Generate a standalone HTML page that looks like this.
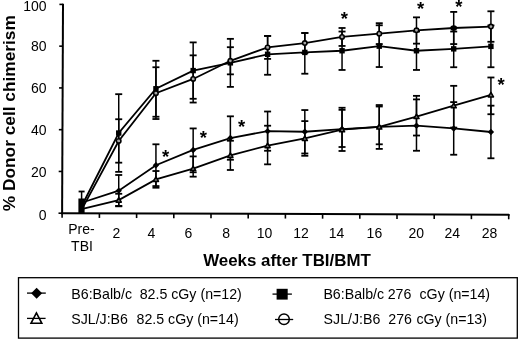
<!DOCTYPE html>
<html><head><meta charset="utf-8"><style>
html,body{margin:0;padding:0;background:#fff;width:520px;height:341px;overflow:hidden}
svg{display:block;filter:grayscale(100%)}
text{font-family:"Liberation Sans",sans-serif;fill:#000}
.tl{font-size:14px}
.lt{font-size:14.2px}
.ttl{font-size:16.9px;font-weight:bold}
.ttly{font-size:17.3px;font-weight:bold}
.star{font-size:18.5px;font-weight:bold;text-anchor:middle}
.ax{stroke:#000;stroke-width:2}
.tk{stroke:#000;stroke-width:1.6}
.eb{stroke:#000;stroke-width:1.5}
.cap{stroke:#000;stroke-width:1.8}
.ln{stroke:#000;stroke-width:1.8;fill:none}
.lg{stroke:#000;stroke-width:1.3}
</style></head><body>
<svg width="520" height="341" viewBox="0 0 520 341">
<line x1="118.72" y1="94.18" x2="118.72" y2="171.86" class="eb"/>
<line x1="115.22" y1="94.18" x2="122.22" y2="94.18" class="cap"/>
<line x1="115.22" y1="171.86" x2="122.22" y2="171.86" class="cap"/>
<line x1="155.94" y1="60.78" x2="155.94" y2="116.73" class="eb"/>
<line x1="152.44" y1="60.78" x2="159.44" y2="60.78" class="cap"/>
<line x1="152.44" y1="116.73" x2="159.44" y2="116.73" class="cap"/>
<line x1="193.16" y1="42.40" x2="193.16" y2="98.78" class="eb"/>
<line x1="189.66" y1="42.40" x2="196.66" y2="42.40" class="cap"/>
<line x1="189.66" y1="98.78" x2="196.66" y2="98.78" class="cap"/>
<line x1="230.38" y1="38.85" x2="230.38" y2="86.88" class="eb"/>
<line x1="226.88" y1="38.85" x2="233.88" y2="38.85" class="cap"/>
<line x1="226.88" y1="86.88" x2="233.88" y2="86.88" class="cap"/>
<line x1="267.60" y1="35.93" x2="267.60" y2="74.77" class="eb"/>
<line x1="264.10" y1="35.93" x2="271.10" y2="35.93" class="cap"/>
<line x1="264.10" y1="74.77" x2="271.10" y2="74.77" class="cap"/>
<line x1="304.82" y1="33.01" x2="304.82" y2="73.72" class="eb"/>
<line x1="301.32" y1="33.01" x2="308.32" y2="33.01" class="cap"/>
<line x1="301.32" y1="73.72" x2="308.32" y2="73.72" class="cap"/>
<line x1="342.04" y1="31.54" x2="342.04" y2="69.96" class="eb"/>
<line x1="338.54" y1="31.54" x2="345.54" y2="31.54" class="cap"/>
<line x1="338.54" y1="69.96" x2="345.54" y2="69.96" class="cap"/>
<line x1="379.26" y1="25.28" x2="379.26" y2="67.04" class="eb"/>
<line x1="375.76" y1="25.28" x2="382.76" y2="25.28" class="cap"/>
<line x1="375.76" y1="67.04" x2="382.76" y2="67.04" class="cap"/>
<line x1="416.48" y1="31.54" x2="416.48" y2="69.96" class="eb"/>
<line x1="412.98" y1="31.54" x2="419.98" y2="31.54" class="cap"/>
<line x1="412.98" y1="69.96" x2="419.98" y2="69.96" class="cap"/>
<line x1="453.70" y1="31.54" x2="453.70" y2="67.25" class="eb"/>
<line x1="450.20" y1="31.54" x2="457.20" y2="31.54" class="cap"/>
<line x1="450.20" y1="67.25" x2="457.20" y2="67.25" class="cap"/>
<line x1="490.92" y1="25.49" x2="490.92" y2="67.25" class="eb"/>
<line x1="487.42" y1="25.49" x2="494.42" y2="25.49" class="cap"/>
<line x1="487.42" y1="67.25" x2="494.42" y2="67.25" class="cap"/>
<line x1="118.72" y1="119.24" x2="118.72" y2="162.67" class="eb"/>
<line x1="115.22" y1="119.24" x2="122.22" y2="119.24" class="cap"/>
<line x1="115.22" y1="162.67" x2="122.22" y2="162.67" class="cap"/>
<line x1="155.94" y1="67.25" x2="155.94" y2="119.03" class="eb"/>
<line x1="152.44" y1="67.25" x2="159.44" y2="67.25" class="cap"/>
<line x1="152.44" y1="119.03" x2="159.44" y2="119.03" class="cap"/>
<line x1="193.16" y1="55.35" x2="193.16" y2="102.54" class="eb"/>
<line x1="189.66" y1="55.35" x2="196.66" y2="55.35" class="cap"/>
<line x1="189.66" y1="102.54" x2="196.66" y2="102.54" class="cap"/>
<line x1="230.38" y1="47.20" x2="230.38" y2="74.35" class="eb"/>
<line x1="226.88" y1="47.20" x2="233.88" y2="47.20" class="cap"/>
<line x1="226.88" y1="74.35" x2="233.88" y2="74.35" class="cap"/>
<line x1="267.60" y1="35.93" x2="267.60" y2="58.90" class="eb"/>
<line x1="264.10" y1="35.93" x2="271.10" y2="35.93" class="cap"/>
<line x1="264.10" y1="58.90" x2="271.10" y2="58.90" class="cap"/>
<line x1="304.82" y1="33.01" x2="304.82" y2="53.05" class="eb"/>
<line x1="301.32" y1="33.01" x2="308.32" y2="33.01" class="cap"/>
<line x1="301.32" y1="53.05" x2="308.32" y2="53.05" class="cap"/>
<line x1="342.04" y1="27.99" x2="342.04" y2="45.95" class="eb"/>
<line x1="338.54" y1="27.99" x2="345.54" y2="27.99" class="cap"/>
<line x1="338.54" y1="45.95" x2="345.54" y2="45.95" class="cap"/>
<line x1="379.26" y1="23.19" x2="379.26" y2="44.07" class="eb"/>
<line x1="375.76" y1="23.19" x2="382.76" y2="23.19" class="cap"/>
<line x1="375.76" y1="44.07" x2="382.76" y2="44.07" class="cap"/>
<line x1="416.48" y1="17.35" x2="416.48" y2="43.65" class="eb"/>
<line x1="412.98" y1="17.35" x2="419.98" y2="17.35" class="cap"/>
<line x1="412.98" y1="43.65" x2="419.98" y2="43.65" class="cap"/>
<line x1="453.70" y1="11.92" x2="453.70" y2="44.07" class="eb"/>
<line x1="450.20" y1="11.92" x2="457.20" y2="11.92" class="cap"/>
<line x1="450.20" y1="44.07" x2="457.20" y2="44.07" class="cap"/>
<line x1="490.92" y1="11.29" x2="490.92" y2="41.78" class="eb"/>
<line x1="487.42" y1="11.29" x2="494.42" y2="11.29" class="cap"/>
<line x1="487.42" y1="41.78" x2="494.42" y2="41.78" class="cap"/>
<line x1="118.72" y1="174.99" x2="118.72" y2="206.31" class="eb"/>
<line x1="115.22" y1="174.99" x2="122.22" y2="174.99" class="cap"/>
<line x1="115.22" y1="206.31" x2="122.22" y2="206.31" class="cap"/>
<line x1="155.94" y1="144.30" x2="155.94" y2="186.06" class="eb"/>
<line x1="152.44" y1="144.30" x2="159.44" y2="144.30" class="cap"/>
<line x1="152.44" y1="186.06" x2="159.44" y2="186.06" class="cap"/>
<line x1="193.16" y1="128.43" x2="193.16" y2="172.28" class="eb"/>
<line x1="189.66" y1="128.43" x2="196.66" y2="128.43" class="cap"/>
<line x1="189.66" y1="172.28" x2="196.66" y2="172.28" class="cap"/>
<line x1="230.38" y1="116.32" x2="230.38" y2="159.75" class="eb"/>
<line x1="226.88" y1="116.32" x2="233.88" y2="116.32" class="cap"/>
<line x1="226.88" y1="159.75" x2="233.88" y2="159.75" class="cap"/>
<line x1="267.60" y1="111.51" x2="267.60" y2="150.77" class="eb"/>
<line x1="264.10" y1="111.51" x2="271.10" y2="111.51" class="cap"/>
<line x1="264.10" y1="150.77" x2="271.10" y2="150.77" class="cap"/>
<line x1="304.82" y1="110.05" x2="304.82" y2="153.48" class="eb"/>
<line x1="301.32" y1="110.05" x2="308.32" y2="110.05" class="cap"/>
<line x1="301.32" y1="153.48" x2="308.32" y2="153.48" class="cap"/>
<line x1="342.04" y1="107.76" x2="342.04" y2="150.98" class="eb"/>
<line x1="338.54" y1="107.76" x2="345.54" y2="107.76" class="cap"/>
<line x1="338.54" y1="150.98" x2="345.54" y2="150.98" class="cap"/>
<line x1="379.26" y1="105.04" x2="379.26" y2="148.89" class="eb"/>
<line x1="375.76" y1="105.04" x2="382.76" y2="105.04" class="cap"/>
<line x1="375.76" y1="148.89" x2="382.76" y2="148.89" class="cap"/>
<line x1="416.48" y1="99.40" x2="416.48" y2="150.77" class="eb"/>
<line x1="412.98" y1="99.40" x2="419.98" y2="99.40" class="cap"/>
<line x1="412.98" y1="150.77" x2="419.98" y2="150.77" class="cap"/>
<line x1="453.70" y1="102.12" x2="453.70" y2="154.74" class="eb"/>
<line x1="450.20" y1="102.12" x2="457.20" y2="102.12" class="cap"/>
<line x1="450.20" y1="154.74" x2="457.20" y2="154.74" class="cap"/>
<line x1="490.92" y1="105.67" x2="490.92" y2="158.29" class="eb"/>
<line x1="487.42" y1="105.67" x2="494.42" y2="105.67" class="cap"/>
<line x1="487.42" y1="158.29" x2="494.42" y2="158.29" class="cap"/>
<line x1="118.72" y1="193.78" x2="118.72" y2="205.89" class="eb"/>
<line x1="115.22" y1="193.78" x2="122.22" y2="193.78" class="cap"/>
<line x1="115.22" y1="205.89" x2="122.22" y2="205.89" class="cap"/>
<line x1="155.94" y1="171.02" x2="155.94" y2="187.73" class="eb"/>
<line x1="152.44" y1="171.02" x2="159.44" y2="171.02" class="cap"/>
<line x1="152.44" y1="187.73" x2="159.44" y2="187.73" class="cap"/>
<line x1="193.16" y1="156.41" x2="193.16" y2="176.66" class="eb"/>
<line x1="189.66" y1="156.41" x2="196.66" y2="156.41" class="cap"/>
<line x1="189.66" y1="176.66" x2="196.66" y2="176.66" class="cap"/>
<line x1="230.38" y1="140.75" x2="230.38" y2="169.98" class="eb"/>
<line x1="226.88" y1="140.75" x2="233.88" y2="140.75" class="cap"/>
<line x1="226.88" y1="169.98" x2="233.88" y2="169.98" class="cap"/>
<line x1="267.60" y1="125.71" x2="267.60" y2="164.34" class="eb"/>
<line x1="264.10" y1="125.71" x2="271.10" y2="125.71" class="cap"/>
<line x1="264.10" y1="164.34" x2="271.10" y2="164.34" class="cap"/>
<line x1="304.82" y1="121.12" x2="304.82" y2="155.78" class="eb"/>
<line x1="301.32" y1="121.12" x2="308.32" y2="121.12" class="cap"/>
<line x1="301.32" y1="155.78" x2="308.32" y2="155.78" class="cap"/>
<line x1="342.04" y1="109.84" x2="342.04" y2="147.01" class="eb"/>
<line x1="338.54" y1="109.84" x2="345.54" y2="109.84" class="cap"/>
<line x1="338.54" y1="147.01" x2="345.54" y2="147.01" class="cap"/>
<line x1="379.26" y1="106.50" x2="379.26" y2="144.30" class="eb"/>
<line x1="375.76" y1="106.50" x2="382.76" y2="106.50" class="cap"/>
<line x1="375.76" y1="144.30" x2="382.76" y2="144.30" class="cap"/>
<line x1="416.48" y1="95.85" x2="416.48" y2="135.53" class="eb"/>
<line x1="412.98" y1="95.85" x2="419.98" y2="95.85" class="cap"/>
<line x1="412.98" y1="135.53" x2="419.98" y2="135.53" class="cap"/>
<line x1="453.70" y1="85.83" x2="453.70" y2="127.59" class="eb"/>
<line x1="450.20" y1="85.83" x2="457.20" y2="85.83" class="cap"/>
<line x1="450.20" y1="127.59" x2="457.20" y2="127.59" class="cap"/>
<line x1="490.92" y1="77.48" x2="490.92" y2="114.23" class="eb"/>
<line x1="487.42" y1="77.48" x2="494.42" y2="77.48" class="cap"/>
<line x1="487.42" y1="114.23" x2="494.42" y2="114.23" class="cap"/>
<path d="M81.50,206.52 C81.50,206.52 118.72,133.02 118.72,133.02 C118.72,133.02 155.94,88.76 155.94,88.76 C155.94,88.76 193.16,70.59 193.16,70.59 C193.16,70.59 230.38,62.86 230.38,62.86 C230.38,62.86 267.60,54.30 267.60,54.30 C267.60,54.30 304.82,52.42 304.82,52.42 C304.82,52.42 342.04,50.75 342.04,50.75 C342.04,50.75 379.26,46.16 379.26,46.16 C379.26,46.16 416.48,50.75 416.48,50.75 C416.48,50.75 453.70,48.87 453.70,48.87 C453.70,48.87 490.92,46.37 490.92,46.37" class="ln"/>
<path d="M81.50,209.86 C81.50,209.86 118.72,140.96 118.72,140.96 C118.72,140.96 155.94,93.14 155.94,93.14 C155.94,93.14 193.16,78.94 193.16,78.94 C193.16,78.94 230.38,60.78 230.38,60.78 C230.38,60.78 267.60,47.41 267.60,47.41 C267.60,47.41 304.82,43.03 304.82,43.03 C304.82,43.03 342.04,36.97 342.04,36.97 C342.04,36.97 379.26,33.63 379.26,33.63 C379.26,33.63 416.48,30.29 416.48,30.29 C416.48,30.29 453.70,27.99 453.70,27.99 C453.70,27.99 490.92,26.53 490.92,26.53" class="ln"/>
<path d="M81.50,202.76 C81.50,202.76 118.72,190.65 118.72,190.65 C118.72,190.65 155.94,165.18 155.94,165.18 C155.94,165.18 193.16,149.93 193.16,149.93 C193.16,149.93 230.38,138.03 230.38,138.03 C230.38,138.03 267.60,131.14 267.60,131.14 C267.60,131.14 304.82,131.77 304.82,131.77 C304.82,131.77 342.04,129.05 342.04,129.05 C342.04,129.05 379.26,126.97 379.26,126.97 C379.26,126.97 416.48,125.71 416.48,125.71 C416.48,125.71 453.70,128.43 453.70,128.43 C453.70,128.43 490.92,131.98 490.92,131.98" class="ln"/>
<path d="M81.50,209.02 C81.50,209.02 118.72,200.05 118.72,200.05 C118.72,200.05 155.94,179.37 155.94,179.37 C155.94,179.37 193.16,168.52 193.16,168.52 C193.16,168.52 230.38,155.36 230.38,155.36 C230.38,155.36 267.60,145.55 267.60,145.55 C267.60,145.55 304.82,138.45 304.82,138.45 C304.82,138.45 342.04,129.68 342.04,129.68 C342.04,129.68 379.26,126.97 379.26,126.97 C379.26,126.97 416.48,116.53 416.48,116.53 C416.48,116.53 453.70,105.67 453.70,105.67 C453.70,105.67 490.92,94.81 490.92,94.81" class="ln"/>
<rect x="116.02" y="130.32" width="5.40" height="5.40" fill="#000"/>
<rect x="153.24" y="86.06" width="5.40" height="5.40" fill="#000"/>
<rect x="190.46" y="67.89" width="5.40" height="5.40" fill="#000"/>
<rect x="227.68" y="60.16" width="5.40" height="5.40" fill="#000"/>
<rect x="264.90" y="51.60" width="5.40" height="5.40" fill="#000"/>
<rect x="302.12" y="49.72" width="5.40" height="5.40" fill="#000"/>
<rect x="339.34" y="48.05" width="5.40" height="5.40" fill="#000"/>
<rect x="376.56" y="43.46" width="5.40" height="5.40" fill="#000"/>
<rect x="413.78" y="48.05" width="5.40" height="5.40" fill="#000"/>
<rect x="451.00" y="46.17" width="5.40" height="5.40" fill="#000"/>
<rect x="488.22" y="43.67" width="5.40" height="5.40" fill="#000"/>
<circle cx="118.72" cy="140.96" r="2.20" fill="#fff" fill-opacity="0.65" stroke="#000" stroke-width="1.6"/>
<circle cx="155.94" cy="93.14" r="2.20" fill="#fff" fill-opacity="0.65" stroke="#000" stroke-width="1.6"/>
<circle cx="193.16" cy="78.94" r="2.20" fill="#fff" fill-opacity="0.65" stroke="#000" stroke-width="1.6"/>
<circle cx="230.38" cy="60.78" r="2.20" fill="#fff" fill-opacity="0.65" stroke="#000" stroke-width="1.6"/>
<circle cx="267.60" cy="47.41" r="2.20" fill="#fff" fill-opacity="0.65" stroke="#000" stroke-width="1.6"/>
<circle cx="304.82" cy="43.03" r="2.20" fill="#fff" fill-opacity="0.65" stroke="#000" stroke-width="1.6"/>
<circle cx="342.04" cy="36.97" r="2.20" fill="#fff" fill-opacity="0.65" stroke="#000" stroke-width="1.6"/>
<circle cx="379.26" cy="33.63" r="2.20" fill="#fff" fill-opacity="0.65" stroke="#000" stroke-width="1.6"/>
<circle cx="416.48" cy="30.29" r="2.20" fill="#fff" fill-opacity="0.65" stroke="#000" stroke-width="1.6"/>
<ellipse cx="453.70" cy="27.99" rx="3.4" ry="2.8" fill="#000"/>
<circle cx="490.92" cy="26.53" r="2.20" fill="#fff" fill-opacity="0.65" stroke="#000" stroke-width="1.6"/>
<path d="M118.72,187.45 L121.92,190.65 L118.72,193.85 L115.52,190.65 Z" fill="#000"/>
<path d="M155.94,161.98 L159.14,165.18 L155.94,168.38 L152.74,165.18 Z" fill="#000"/>
<path d="M193.16,146.73 L196.36,149.93 L193.16,153.13 L189.96,149.93 Z" fill="#000"/>
<path d="M230.38,134.83 L233.58,138.03 L230.38,141.23 L227.18,138.03 Z" fill="#000"/>
<path d="M267.60,127.94 L270.80,131.14 L267.60,134.34 L264.40,131.14 Z" fill="#000"/>
<path d="M304.82,128.57 L308.02,131.77 L304.82,134.97 L301.62,131.77 Z" fill="#000"/>
<path d="M342.04,125.85 L345.24,129.05 L342.04,132.25 L338.84,129.05 Z" fill="#000"/>
<path d="M379.26,123.77 L382.46,126.97 L379.26,130.17 L376.06,126.97 Z" fill="#000"/>
<path d="M416.48,122.51 L419.68,125.71 L416.48,128.91 L413.28,125.71 Z" fill="#000"/>
<path d="M453.70,125.23 L456.90,128.43 L453.70,131.63 L450.50,128.43 Z" fill="#000"/>
<path d="M490.92,128.78 L494.12,131.98 L490.92,135.18 L487.72,131.98 Z" fill="#000"/>
<path d="M118.72,197.58 L121.32,202.13 L116.12,202.13 Z" fill="#777" stroke="#000" stroke-width="1.5" stroke-linejoin="round"/>
<path d="M155.94,176.90 L158.54,181.45 L153.34,181.45 Z" fill="#777" stroke="#000" stroke-width="1.5" stroke-linejoin="round"/>
<path d="M193.16,166.05 L195.76,170.60 L190.56,170.60 Z" fill="#777" stroke="#000" stroke-width="1.5" stroke-linejoin="round"/>
<path d="M230.38,152.89 L232.98,157.44 L227.78,157.44 Z" fill="#777" stroke="#000" stroke-width="1.5" stroke-linejoin="round"/>
<path d="M267.60,143.08 L270.20,147.63 L265.00,147.63 Z" fill="#777" stroke="#000" stroke-width="1.5" stroke-linejoin="round"/>
<path d="M304.82,135.98 L307.42,140.53 L302.22,140.53 Z" fill="#777" stroke="#000" stroke-width="1.5" stroke-linejoin="round"/>
<path d="M342.04,127.21 L344.64,131.76 L339.44,131.76 Z" fill="#777" stroke="#000" stroke-width="1.5" stroke-linejoin="round"/>
<path d="M379.26,124.50 L381.86,129.05 L376.66,129.05 Z" fill="#777" stroke="#000" stroke-width="1.5" stroke-linejoin="round"/>
<path d="M416.48,114.06 L419.08,118.61 L413.88,118.61 Z" fill="#777" stroke="#000" stroke-width="1.5" stroke-linejoin="round"/>
<path d="M453.70,103.20 L456.30,107.75 L451.10,107.75 Z" fill="#777" stroke="#000" stroke-width="1.5" stroke-linejoin="round"/>
<path d="M490.92,92.34 L493.52,96.89 L488.32,96.89 Z" fill="#777" stroke="#000" stroke-width="1.5" stroke-linejoin="round"/>
<line x1="81.6" y1="191.5" x2="81.6" y2="213" class="eb"/>
<line x1="78.6" y1="191.5" x2="84.6" y2="191.5" class="cap"/>
<rect x="78.4" y="198.5" width="6.2" height="15" fill="#000"/>
<text x="165.6" y="162.6" class="star">*</text>
<text x="203.4" y="144.4" class="star">*</text>
<text x="241.5" y="133.2" class="star">*</text>
<text x="344.4" y="25.1" class="star">*</text>
<text x="420.5" y="15.3" class="star">*</text>
<text x="458.8" y="12.5" class="star">*</text>
<text x="501.0" y="90.5" class="star">*</text>
<line x1="63.00" y1="3.8" x2="62.1" y2="214.2" class="ax"/>
<line x1="61.1" y1="213.2" x2="509.7" y2="214.70" class="ax"/>
<line x1="58.50" y1="213.20" x2="62.10" y2="213.20" class="tk"/>
<text x="46.6" y="220.00" class="tl" text-anchor="end">0</text>
<line x1="58.68" y1="171.44" x2="62.28" y2="171.44" class="tk"/>
<text x="46.6" y="176.64" class="tl" text-anchor="end">20</text>
<line x1="58.86" y1="129.68" x2="62.46" y2="129.68" class="tk"/>
<text x="46.6" y="134.88" class="tl" text-anchor="end">40</text>
<line x1="59.04" y1="87.92" x2="62.64" y2="87.92" class="tk"/>
<text x="46.6" y="93.12" class="tl" text-anchor="end">60</text>
<line x1="59.22" y1="46.16" x2="62.82" y2="46.16" class="tk"/>
<text x="46.6" y="51.36" class="tl" text-anchor="end">80</text>
<line x1="59.40" y1="4.40" x2="63.00" y2="4.40" class="tk"/>
<text x="46.6" y="10.90" class="tl" text-anchor="end">100</text>
<line x1="62.10" y1="213.20" x2="62.10" y2="217.80" class="tk"/>
<line x1="99.40" y1="213.33" x2="99.40" y2="217.93" class="tk"/>
<line x1="136.60" y1="213.45" x2="136.60" y2="218.05" class="tk"/>
<line x1="173.80" y1="213.58" x2="173.80" y2="218.18" class="tk"/>
<line x1="211.00" y1="213.70" x2="211.00" y2="218.30" class="tk"/>
<line x1="248.20" y1="213.83" x2="248.20" y2="218.43" class="tk"/>
<line x1="285.40" y1="213.95" x2="285.40" y2="218.55" class="tk"/>
<line x1="322.60" y1="214.08" x2="322.60" y2="218.68" class="tk"/>
<line x1="359.80" y1="214.20" x2="359.80" y2="218.80" class="tk"/>
<line x1="397.00" y1="214.33" x2="397.00" y2="218.93" class="tk"/>
<line x1="434.20" y1="214.45" x2="434.20" y2="219.05" class="tk"/>
<line x1="471.40" y1="214.58" x2="471.40" y2="219.18" class="tk"/>
<line x1="508.70" y1="214.70" x2="508.70" y2="219.30" class="tk"/>
<text x="116.30" y="237.8" class="tl" text-anchor="middle">2</text>
<text x="151.50" y="237.8" class="tl" text-anchor="middle">4</text>
<text x="188.50" y="237.8" class="tl" text-anchor="middle">6</text>
<text x="226.20" y="237.8" class="tl" text-anchor="middle">8</text>
<text x="264.50" y="237.8" class="tl" text-anchor="middle">10</text>
<text x="301.00" y="237.8" class="tl" text-anchor="middle">12</text>
<text x="336.60" y="237.8" class="tl" text-anchor="middle">14</text>
<text x="374.40" y="237.8" class="tl" text-anchor="middle">16</text>
<text x="416.20" y="237.8" class="tl" text-anchor="middle">20</text>
<text x="452.30" y="237.8" class="tl" text-anchor="middle">24</text>
<text x="489.60" y="237.8" class="tl" text-anchor="middle">28</text>
<text x="81.5" y="233.8" class="tl" text-anchor="middle">Pre-</text>
<text x="82" y="250.7" class="tl" text-anchor="middle">TBI</text>
<text x="287" y="266.2" class="ttl" text-anchor="middle">Weeks after TBI/BMT</text>
<text transform="translate(14.7,113.2) rotate(-90)" class="ttly" text-anchor="middle">% Donor cell chimerism</text>
<rect x="18.5" y="277.7" width="498.8" height="60.4" fill="none" stroke="#000" stroke-width="1.3"/>
<line x1="27" y1="293.1" x2="45.8" y2="293.1" class="lg"/>
<path d="M36.6,287.8 L42.1,293.2 L36.6,298.7 L31.1,293.2 Z" fill="#000"/>
<line x1="27" y1="318.4" x2="45.6" y2="318.4" class="lg"/>
<path d="M36.4,312.9 L41.8,323.3 L31,323.3 Z" fill="none" stroke="#000" stroke-width="1.6" stroke-linejoin="miter"/>
<line x1="272.5" y1="294.1" x2="291.9" y2="294.1" class="lg"/>
<rect x="276.6" y="288.8" width="11.1" height="10.8" fill="#000"/>
<line x1="275" y1="319.5" x2="293.2" y2="319.5" class="lg"/>
<circle cx="284" cy="319.3" r="5.3" fill="none" stroke="#000" stroke-width="1.5"/>
<text x="71.30" y="298.90" class="lt">B6:Balb/c</text>
<text x="139.70" y="298.90" class="lt">82.5 cGy (n=12)</text>
<text x="71.20" y="323.90" class="lt">SJL/J:B6</text>
<text x="136.50" y="323.90" class="lt">82.5 cGy (n=14)</text>
<text x="323.40" y="299.20" class="lt">B6:Balb/c</text>
<text x="387.70" y="299.20" class="lt">276</text>
<text x="419.50" y="299.20" class="lt">cGy (n=14)</text>
<text x="323.60" y="324.20" class="lt">SJL/J:B6</text>
<text x="388.30" y="324.20" class="lt">276</text>
<text x="416.40" y="324.20" class="lt">cGy (n=13)</text>
</svg>
</body></html>
